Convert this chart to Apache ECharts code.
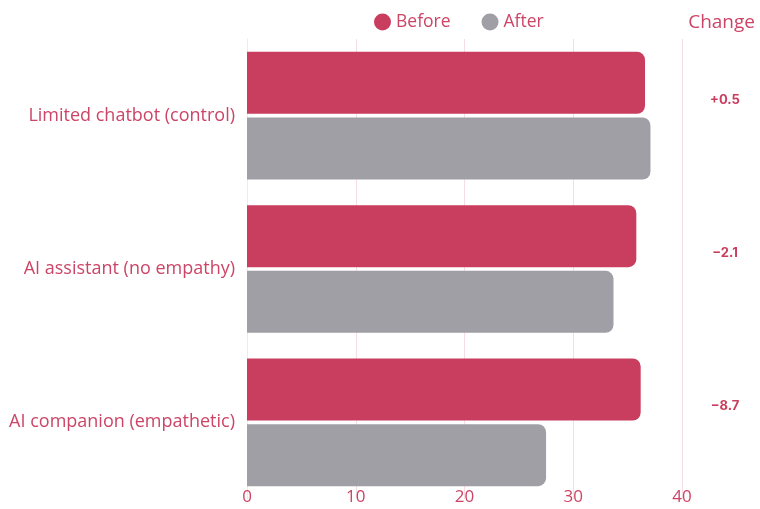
<!DOCTYPE html>
<html><head><meta charset="utf-8">
<script src="https://cdn.jsdelivr.net/npm/echarts@6/dist/echarts.min.js"></script>
<style>html,body{margin:0;padding:0;background:#fff}#c{width:760px;height:509px}</style>
</head><body><div id="c"></div>
<script>
var categories = ['Limited chatbot (control)', 'AI assistant (no empathy)', 'AI companion (empathetic)'];
var beforeVals = [36.6, 35.8, 36.2];
var afterVals = [37.1, 33.7, 27.5];
var changes = ['+0.5', '\u22122.1', '\u22128.7'];
var xTicks = [0, 10, 20, 30, 40];

var RED = '#c93d5e', GREY = '#a09fa5', TXT = '#cc4566';
var chart = echarts.init(document.getElementById('c'), null, {renderer: 'canvas'});
chart.setOption({
  animation: false,
  title: {text: 'Change', right: 0, top: 8, textStyle: {color: TXT, fontSize: 19, fontWeight: 'normal', fontFamily: 'Open Sans'}},
  legend: {
    data: ['Before', 'After'], top: 8, left: 369, itemGap: 31, itemTextGap: 10,
    icon: 'circle', itemWidth: 17, itemHeight: 17,
    textStyle: {color: TXT, fontSize: 17.5, fontFamily: 'Open Sans'}
  },
  grid: {left: 247, right: 78, top: 39, bottom: 10},
  xAxis: {
    type: 'value', min: 0, max: 40, interval: 10,
    axisLine: {show: false}, axisTick: {show: false},
    axisLabel: {color: TXT, fontSize: 17, fontFamily: 'Open Sans', margin: -10,
      formatter: function (v) { return xTicks.indexOf(v) >= 0 ? String(v) : ''; }},
    splitLine: {lineStyle: {color: '#f5dde4', width: 1}}
  },
  yAxis: {
    type: 'category', data: categories, inverse: true,
    axisLine: {show: true, lineStyle: {color: '#ececec'}}, axisTick: {show: false},
    axisLabel: {color: TXT, fontSize: 18, fontFamily: 'Open Sans', margin: 12}
  },
  series: [
    {name: 'Before', type: 'bar', data: beforeVals, barWidth: 62, barGap: '6%',
      itemStyle: {color: RED, borderRadius: [0, 8, 8, 0]}},
    {name: 'After', type: 'bar', data: afterVals, barWidth: 62,
      itemStyle: {color: GREY, borderRadius: [0, 8, 8, 0]}},
    {name: 'ChangeCol', type: 'custom', data: changes.map(function (c, i) { return [0, i]; }),
      silent: true, legendHoverLink: false,
      renderItem: function (params, api) {
        var p = api.coord([0, api.value(1)]);
        return {type: 'text', style: {text: changes[params.dataIndex], x: 725, y: p[1] - 16,
          align: 'center', verticalAlign: 'middle', fill: RED, fontSize: 13, fontWeight: 'bold', fontFamily: 'Inter'}};
      }
    }
  ]
});
</script></body></html>
